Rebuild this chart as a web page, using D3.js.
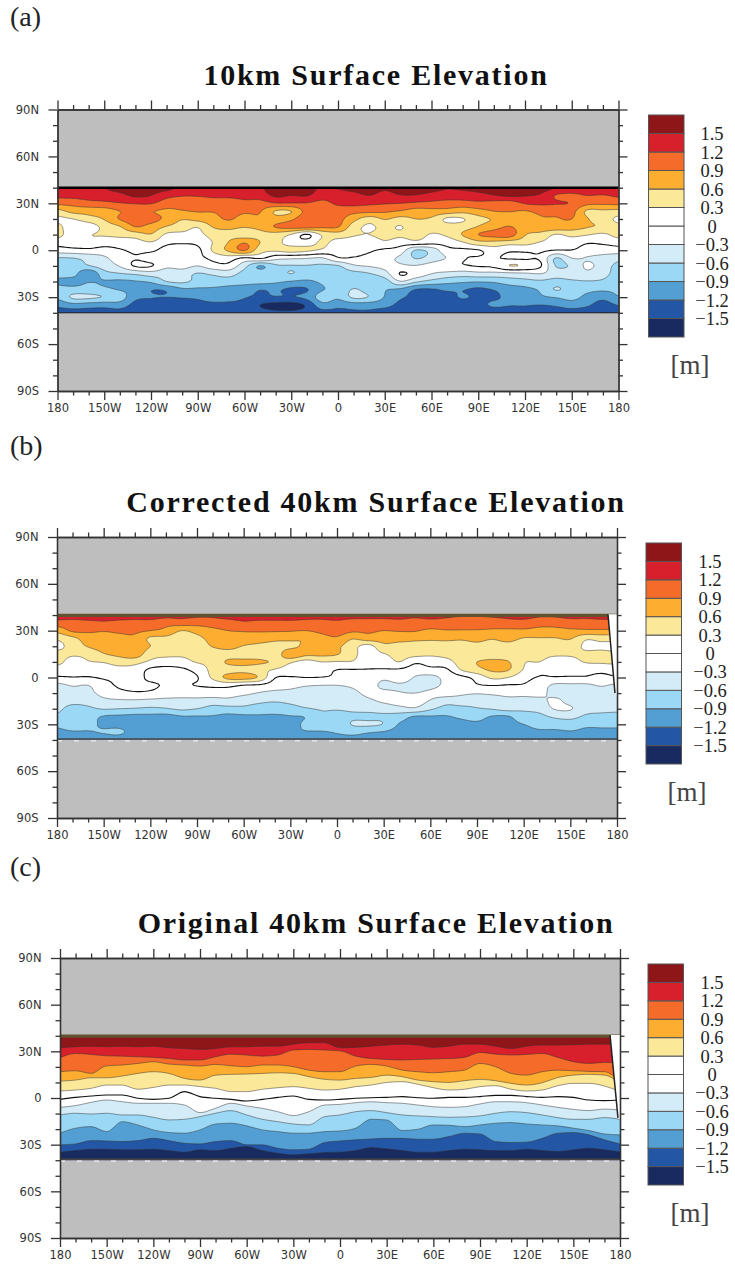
<!DOCTYPE html>
<html>
<head>
<meta charset="utf-8">
<script src="https://cdn.jsdelivr.net/npm/d3@7"></script>
<style>
	body { margin: 0; background: #fff; }
	svg { display: block; }
	.tick text { font-family: "DejaVu Sans", sans-serif; font-size: 11.5px; fill: #333; }
	.axis path, .axis line { stroke: #333; stroke-width: 1.3px; }
	.panel-label, .bar-label, .bar-unit { font-family: "Liberation Serif", serif; fill: #222; }
	.title { font-family: "Liberation Serif", serif; font-weight: bold; fill: #111; }
</style>
</head>
<body>
<div id="chart"></div>
<script>
// contour levels in cm, colours run from the lowest band to the highest
const levels = [-150, -120, -90, -60, -30, 0, 30, 60, 90, 120, 150];
const levelLabels = ['\u22121.5', '\u22121.2', '\u22120.9', '\u22120.6', '\u22120.3', '0', '0.3', '0.6', '0.9', '1.2', '1.5'];
const bandColors = ['#182A60', '#2357A6', '#539FD3', '#9BD8F6', '#D3ECF8', '#FFFFFF', '#FFFFFF', '#FCE899', '#FDAE30', '#F56C2A', '#D7202C', '#8E1518'];

const lons = d3.range(-180, 181, 10);
const lats = d3.range(40, -41, -5);

const xMajor = d3.range(-180, 181, 30);
const xLabels = ['180', '150W', '120W', '90W', '60W', '30W', '0', '30E', '60E', '90E', '120E', '150E', '180'];
const yMajor = d3.range(-90, 91, 30);
const yLabels = ['90S', '60S', '30S', '0', '30N', '60N', '90N'];

// surface elevation in cm, one row per longitude (-180 to 180), 40N down to 40S
const field10km = [
	[142,128,98,50,24,38,40,12,-14,-62,-72,-80,-95,-82,-85,-112,-135],
	[145,130,100,70,30,10,12,15,-10,-60,-72,-80,-100,-80,-55,-100,-135],
	[148,135,108,72,48,12,28,22,-8,-50,-62,-115,-92,-80,-55,-105,-135],
	[150,138,112,75,62,40,33,14,-12,-35,-45,-72,-92,-85,-62,-108,-135],
	[160,142,118,90,92,58,38,15,-3,-15,-28,-62,-95,-92,-75,-105,-132],
	[165,155,122,98,105,90,45,18,5,-2,3,-55,-92,-98,-112,-130,-140],
	[162,150,122,92,102,78,58,28,5,-12,2,-45,-85,-118,-118,-135,-142],
	[160,130,105,85,82,58,25,8,-12,-4,-22,-50,-60,-115,-120,-135,-142],
	[142,122,100,88,62,45,22,5,-28,-5,-18,-48,-55,-95,-118,-132,-142],
	[140,122,105,92,70,32,22,8,-8,-8,-30,-62,-68,-95,-115,-130,-140],
	[142,125,108,92,80,62,42,32,35,8,-12,-55,-72,-95,-105,-128,-140],
	[145,128,102,100,93,68,50,62,66,15,-10,-48,-75,-100,-108,-128,-140],
	[150,132,110,95,78,62,42,88,92,-4,-50,-70,-80,-105,-118,-130,-140],
	[148,135,108,92,85,70,50,60,42,5,-92,-72,-80,-118,-125,-150,-140],
	[165,155,118,58,72,92,48,42,35,-20,-65,-70,-85,-115,-122,-158,-145],
	[165,150,118,60,85,100,28,15,42,-25,-62,-60,-92,-125,-122,-160,-145],
	[165,152,118,100,110,102,-3,15,35,-28,-62,-72,-95,-122,-112,-145,-142],
	[145,132,112,100,102,95,35,35,25,-32,-65,-72,-85,-92,-75,-100,-132],
	[152,135,125,105,100,92,45,20,8,-3,-62,-72,-78,-85,-85,-110,-130],
	[160,140,128,100,70,45,33,18,5,-2,-35,-70,-82,-58,-55,-105,-125],
	[165,150,125,98,45,25,30,12,3,-8,-28,-62,-82,-75,-62,-105,-125],
	[155,138,122,95,62,40,40,25,-5,-22,-22,-42,-75,-88,-92,-110,-135],
	[165,148,120,88,50,28,35,15,-15,-35,-25,2,-32,-95,-115,-128,-138],
	[165,148,115,78,60,50,42,20,-62,-62,-28,-12,-55,-120,-128,-135,-140],
	[160,140,112,80,55,38,28,10,-48,-48,-18,-30,-70,-122,-128,-135,-140],
	[152,135,108,78,25,42,35,12,-10,-28,-5,-40,-80,-115,-128,-130,-140],
	[155,135,108,70,28,45,62,28,-5,-3,-3,-45,-85,-118,-118,-130,-140],
	[160,140,112,80,50,62,90,50,-2,2,2,-40,-88,-125,-125,-130,-140],
	[165,148,108,90,62,78,100,52,15,2,6,-40,-85,-118,-125,-115,-138],
	[172,155,105,92,65,92,105,45,5,-3,30,-38,-75,-105,-112,-118,-138],
	[168,152,122,88,62,72,62,42,5,-4,25,-35,-70,-98,-110,-118,-138],
	[165,145,125,100,85,80,50,28,5,-5,3,-30,-65,-85,-95,-120,-138],
	[150,118,122,98,88,82,28,18,-1,-62,-62,-45,-70,-58,-88,-115,-138],
	[148,112,118,100,90,75,38,15,-1,-30,-55,-42,-65,-75,-82,-105,-135],
	[145,120,98,55,62,62,32,3,-12,-32,-25,-38,-62,-82,-98,-115,-140],
	[142,118,95,55,45,55,25,5,-15,-40,-45,-50,-65,-85,-110,-135,-150],
	[142,125,98,50,24,38,40,12,-14,-50,-68,-72,-80,-85,-92,-118,-145]
];

const fieldCorrected = [
	[135,108,70,35,22,40,42,10,-3,-38,-42,-48,-55,-65,-85,-95,-105],
	[135,108,95,52,42,35,15,8,-1,-28,-40,-52,-68,-72,-80,-92,-105],
	[135,112,95,75,62,40,28,12,-2,-30,-38,-50,-65,-78,-82,-92,-105],
	[135,115,92,78,72,58,32,15,3,-10,-20,-38,-58,-92,-95,-88,-105],
	[138,110,95,82,78,68,42,20,5,3,-8,-35,-60,-95,-98,-85,-105],
	[135,108,95,85,82,78,40,18,8,4,-3,-35,-62,-98,-102,-102,-108],
	[135,108,90,55,60,42,25,-5,-5,3,-5,-38,-65,-98,-102,-102,-108],
	[130,100,82,52,45,38,15,-8,-8,-2,-12,-40,-62,-100,-102,-102,-108],
	[128,105,60,45,48,35,20,-5,-6,-3,-15,-40,-55,-92,-100,-102,-108],
	[125,102,70,52,42,38,32,10,-2,1,-18,-38,-60,-92,-102,-102,-108],
	[125,105,82,70,62,38,38,38,35,5,-12,-45,-70,-92,-102,-102,-108],
	[132,108,90,75,72,45,65,45,68,8,-15,-40,-70,-98,-105,-105,-108],
	[135,115,92,80,58,42,68,50,72,-1,-22,-50,-66,-96,-105,-105,-108],
	[135,112,93,75,52,42,65,40,55,-5,-32,-55,-70,-95,-105,-105,-108],
	[135,112,93,68,48,40,55,28,2,-15,-38,-58,-72,-96,-102,-105,-108],
	[135,112,92,68,50,85,35,15,-2,-22,-38,-55,-68,-92,-100,-95,-105],
	[128,112,90,62,68,68,20,18,0,-28,-40,-52,-62,-88,-85,-92,-108],
	[128,112,98,78,72,68,30,12,-1,-30,-40,-48,-58,-66,-78,-92,-108],
	[130,115,105,85,66,62,28,0,-5,-30,-42,-50,-58,-70,-80,-88,-100],
	[130,108,95,62,42,38,28,-1,-12,-25,-38,-45,-55,-65,-58,-82,-100],
	[132,105,95,75,20,18,12,-1,-8,-12,-22,-36,-50,-68,-55,-88,-100],
	[130,106,90,72,52,28,12,-2,-22,-40,-20,-25,-48,-65,-62,-92,-100],
	[130,110,92,72,48,42,30,-3,-10,-35,-28,-18,-40,-75,-92,-100,-105],
	[125,108,92,68,46,40,5,-12,-32,-38,-30,-18,-35,-92,-98,-100,-105],
	[130,108,85,65,46,35,12,-8,-38,-38,-25,-32,-55,-92,-100,-100,-105],
	[125,108,88,66,48,38,20,-5,-22,-24,-18,-48,-70,-92,-100,-100,-105],
	[122,105,88,64,48,38,42,32,-8,-12,-25,-45,-68,-85,-98,-100,-105],
	[122,104,88,68,52,38,60,50,10,-3,-28,-48,-62,-80,-95,-100,-105],
	[125,102,86,62,48,40,68,65,36,1,-25,-45,-58,-92,-100,-102,-105],
	[128,108,85,70,48,38,62,62,30,-2,-22,-38,-50,-92,-98,-102,-105],
	[132,108,85,58,44,36,32,28,10,-3,-22,-40,-55,-72,-90,-100,-105],
	[125,100,82,58,42,36,30,8,-2,-15,-22,-38,-50,-68,-80,-95,-105],
	[125,100,82,58,42,34,18,8,-2,-35,-38,-25,-28,-55,-78,-95,-105],
	[130,105,85,62,44,34,20,8,-3,-35,-36,-38,-28,-50,-78,-92,-105],
	[130,105,85,35,25,35,32,8,-3,-35,-38,-40,-48,-65,-85,-95,-105],
	[132,108,85,40,24,38,34,8,-8,-28,-40,-45,-52,-68,-85,-95,-105],
	[132,108,85,38,24,32,36,12,-3,-35,-42,-48,-55,-68,-85,-95,-105]
];

// original 40km run is plain zonal bands, so keep the latitude of each level per longitude
const lat150 = [32.3,32.9,33.3,32.9,33.3,32.9,33.3,32.3,31.8,31.2,31.8,32.9,32.9,33.3,33.3,34.6,35.5,35.5,32.3,32.5,33.3,34.0,34.6,34.0,32.5,33.3,34.6,34.6,33.3,31.8,33.3,34.0,34.0,34.2,34.6,34.6,34.0];
const lat120 = [25.9,28.6,28.0,27.1,26.9,26.5,26.1,25.4,24.4,24.4,26.5,28.2,27.6,26.9,27.6,30.8,31.2,30.8,30.3,26.9,25.4,24.8,24.4,24.8,25.0,25.4,26.1,29.3,28.2,27.6,28.0,28.6,26.1,23.3,22.2,22.9,22.2];
const lat90 = [16.9,17.5,15.8,20.7,21.2,22.2,23.3,21.8,21.2,20.5,21.6,20.7,20.1,21.2,21.2,20.1,17.9,16.9,16.9,20.5,21.6,20.5,17.9,16.9,16.2,16.9,17.9,22.2,20.1,15.8,14.7,16.9,17.9,17.5,17.1,16.9,10.5];
const lat60 = [10.9,11.5,13.0,13.0,14.1,15.8,16.9,15.8,12.6,11.5,14.7,15.2,15.4,15.8,16.2,15.8,13.7,12.0,11.5,12.6,13.2,14.7,13.7,11.5,10.5,10.0,11.1,12.0,11.1,9.4,8.3,9.8,13.2,14.7,15.2,14.7,9.4];
const lat30 = [4.5,5.1,6.2,8.3,8.3,5.6,6.8,8.3,8.3,7.3,6.2,4.1,4.1,5.6,6.6,7.3,6.2,5.1,5.6,7.3,8.3,10.0,10.5,8.8,6.6,5.1,5.6,7.3,7.9,5.6,4.5,5.1,7.9,9.4,9.4,7.7,4.1];
const lat0 = [-0.9,0.4,1.3,1.9,1.9,-0.2,-0.9,-0.2,4.1,0.9,-0.2,-0.9,-1.9,-0.9,0.4,1.3,-0.9,-1.3,-0.9,-0.2,0.2,0.4,0.9,0.2,-0.2,0.4,0.4,0.9,1.7,1.7,0.9,0.4,0.9,0.4,-1.3,-1.7,-1.3];
const latN30 = [-6.0,-4.9,-2.8,-1.3,-2.4,-3.4,-3.4,-3.4,-4.5,-9.4,-6.6,-3.4,-5.1,-6.6,-8.8,-11.3,-8.8,-4.5,-4.1,-3.0,-2.4,-3.0,-3.4,-4.5,-5.6,-6.0,-5.6,-3.8,-2.4,-2.4,-3.0,-4.5,-6.0,-7.3,-8.1,-7.1,-7.7];
const latN60 = [-10.9,-9.8,-10.3,-9.8,-10.9,-10.9,-12.4,-14.1,-13.7,-12.0,-9.8,-8.1,-10.9,-13.7,-15.2,-16.7,-17.3,-12.0,-10.9,-8.8,-8.1,-9.4,-10.9,-11.5,-12.0,-12.4,-12.2,-11.5,-9.8,-8.8,-9.4,-10.9,-12.6,-13.7,-13.7,-12.6,-13.7];
const latN90 = [-22.6,-19.4,-18.4,-21.6,-15.2,-17.3,-20.5,-22.2,-22.6,-20.5,-16.7,-16.2,-17.9,-20.5,-21.6,-22.6,-22.6,-21.6,-21.2,-19.4,-13.7,-14.1,-20.9,-20.1,-17.3,-17.5,-18.4,-17.3,-16.2,-15.8,-16.7,-17.3,-17.9,-19.4,-20.9,-23.1,-23.7];
const latN120 = [-30.1,-29.5,-27.4,-27.6,-28.0,-27.4,-25.9,-27.4,-29.1,-29.5,-28.0,-27.4,-30.1,-30.1,-32.3,-33.3,-32.9,-28.6,-27.6,-26.9,-26.3,-25.9,-25.9,-26.5,-26.5,-24.8,-22.6,-23.1,-28.0,-28.6,-28.4,-25.9,-22.6,-22.2,-23.7,-26.9,-29.5];
const latN150 = [-34.8,-33.8,-32.9,-32.9,-33.3,-33.3,-32.9,-33.8,-34.8,-33.3,-33.8,-32.3,-31.2,-33.8,-35.5,-36.5,-35.9,-35.0,-34.8,-33.8,-31.8,-32.7,-33.8,-34.8,-34.8,-33.8,-32.9,-33.3,-33.8,-33.8,-32.9,-33.8,-34.4,-33.3,-32.3,-33.3,-34.6];
const bandLats = [latN150, latN120, latN90, latN60, latN30, lat0, lat30, lat60, lat90, lat120, lat150];

// the 40km runs stop short of the dateline on their eastern edge
const edgeLonCorrected = [174.2, 178.7, 180, 180];
const edgeLatCorrected = [40.5, -10, -12, 40.5];
const edgeLonOriginal = [173.6, 178.7, 180, 180];
const edgeLatOriginal = [40.5, -12.8, -14, 40.5];

const width = 735;
const height = 1267;
const upsample = 6;
const pad = 2;

const panels = [
	{ tag: '(a)', title: '10km Surface Elevation', field: field10km, left: 57.5, right: 618.5, top: 109.5, bottom: 391, barLeft: 648.5, barTop: 115, barBottom: 337, labelX: 712, unitX: 690, tagY: 26, titleY: 85 },
	{ tag: '(b)', title: 'Corrected 40km Surface Elevation', field: fieldCorrected, edgeLon: edgeLonCorrected, edgeLat: edgeLatCorrected, left: 57, right: 617, top: 537, bottom: 818, barLeft: 646, barTop: 543, barBottom: 764, labelX: 710, unitX: 687, tagY: 455, titleY: 512 },
	{ tag: '(c)', title: 'Original 40km Surface Elevation', lines: bandLats, edgeLon: edgeLonOriginal, edgeLat: edgeLatOriginal, left: 60, right: 620, top: 958, bottom: 1238, barLeft: 648, barTop: 964, barBottom: 1185, labelX: 712, unitX: 690, tagY: 876, titleY: 933 }
];

// Catmull-Rom, clamped at the ends of the row
function cubic(a, b, c, d, t) {
	return b + 0.5 * t * (c - a + t * (2 * a - 5 * b + 4 * c - d + t * (3 * (b - c) + d - a)));
}

function sampleField(field) {
	const nCol = field.length;
	const nRow = field[0].length;
	const w = (nCol - 1 + pad * 2) * upsample + 1;
	const h = (nRow - 1 + pad * 2) * upsample + 1;
	const clampC = i => Math.max(0, Math.min(nCol - 1, i));
	const clampR = i => Math.max(0, Math.min(nRow - 1, i));
	const values = new Float64Array(w * h);
	for (let j = 0; j < h; j++) {
		const v = j / upsample - pad;
		const r0 = Math.floor(v);
		const tr = v - r0;
		for (let i = 0; i < w; i++) {
			const u = i / upsample - pad;
			const c0 = Math.floor(u);
			const tc = u - c0;
			const col = [-1, 0, 1, 2].map(dc => {
				const column = field[clampC(c0 + dc)];
				return cubic(column[clampR(r0 - 1)], column[clampR(r0)], column[clampR(r0 + 1)], column[clampR(r0 + 2)], tr);
			});
			values[j * w + i] = cubic(col[0], col[1], col[2], col[3], tc);
		}
	}
	return { values, w, h };
}

const $svg = d3.select('#chart').append('svg')
	.attr('width', width)
	.attr('height', height);

panels.forEach((panel, index) => drawPanel(panel, index));

function drawPanel(panel, index) {
	const scaleX = d3.scaleLinear().domain([-180, 180]).range([panel.left, panel.right]);
	const scaleY = d3.scaleLinear().domain([90, -90]).range([panel.top, panel.bottom]);
	const $g = $svg.append('g').attr('class', 'panel');

	$g.append('text').attr('class', 'panel-label')
		.attr('x', 10).attr('y', panel.tagY)
		.style('font-size', '28px')
		.text(panel.tag);

	$g.append('text').attr('class', 'title')
		.attr('x', 376).attr('y', panel.titleY)
		.attr('text-anchor', 'middle')
		.style('font-size', '30px')
		.style('letter-spacing', '1.75px')
		.text(panel.title);

	// land / out of domain
	$g.append('rect')
		.attr('x', panel.left).attr('y', panel.top)
		.attr('width', panel.right - panel.left).attr('height', panel.bottom - panel.top)
		.attr('fill', '#BEBEBE');

	const clipId = `clip-${index}`;
	$g.append('clipPath').attr('id', clipId).append('rect')
		.attr('x', panel.left).attr('y', scaleY(40.3))
		.attr('width', panel.right - panel.left).attr('height', scaleY(-40) - scaleY(40.3));

	const $map = $g.append('g').attr('clip-path', `url(#${clipId})`);
	$map.append('rect')
		.attr('x', panel.left).attr('y', scaleY(41))
		.attr('width', panel.right - panel.left).attr('height', scaleY(-41) - scaleY(41))
		.attr('fill', bandColors[0]);

	if (panel.field) drawContours($map, panel.field, scaleX, scaleY);
	else drawBands($map, panel.lines, scaleX, scaleY);

	// edge of the domain
	if (index === 0) {
		$g.append('line').attr('x1', panel.left).attr('x2', panel.right)
			.attr('y1', scaleY(40)).attr('y2', scaleY(40))
			.attr('stroke', '#000').attr('stroke-width', 2.6);
		$g.append('line').attr('x1', panel.left).attr('x2', panel.right)
			.attr('y1', scaleY(-40)).attr('y2', scaleY(-40))
			.attr('stroke', '#222').attr('stroke-width', 1);
	} else {
		$g.append('line').attr('x1', panel.left).attr('x2', panel.right)
			.attr('y1', scaleY(39.8)).attr('y2', scaleY(39.8))
			.attr('stroke', '#5f5330').attr('stroke-width', 3.2);
		$g.append('line').attr('x1', panel.left).attr('x2', panel.right)
			.attr('y1', scaleY(-39.4)).attr('y2', scaleY(-39.4))
			.attr('stroke', '#444').attr('stroke-width', 1.4);
		$g.append('line').attr('x1', panel.left).attr('x2', panel.right)
			.attr('y1', scaleY(-40.6)).attr('y2', scaleY(-40.6))
			.attr('stroke', '#eee').attr('stroke-width', 1.2)
			.attr('stroke-dasharray', '5 12');

		const edge = panel.edgeLon.map((lon, i) => [scaleX(lon), scaleY(panel.edgeLat[i])]);
		$g.append('path').attr('d', `M${edge.join('L')}Z`).attr('fill', '#fff');
		$g.append('path').attr('d', d3.line()(edge.slice(0, 2)))
			.attr('fill', 'none').attr('stroke', '#222').attr('stroke-width', 1.5);
	}

	drawAxes($g, scaleX, scaleY);
	drawBar($g, panel);
}

function drawContours($map, field, scaleX, scaleY) {
	const { values, w, h } = sampleField(field);
	const contours = d3.contours().size([w, h]).thresholds(levels)(values);
	const stepLon = lons[1] - lons[0];
	const stepLat = lats[1] - lats[0];
	const path = d3.geoPath(d3.geoTransform({
		point(gx, gy) {
			const u = (gx - 0.5) / upsample - pad;
			const v = (gy - 0.5) / upsample - pad;
			this.stream.point(scaleX(lons[0] + u * stepLon), scaleY(lats[0] + v * stepLat));
		}
	}));

	$map.append('g').selectAll('path')
		.data(contours)
		.join('path')
		.attr('d', path)
		.attr('fill', (d, i) => bandColors[i + 1]);

	$map.append('g').selectAll('path')
		.data(contours)
		.join('path')
		.attr('d', path)
		.attr('fill', 'none')
		.attr('stroke', d => d.value === 0 ? '#111' : '#333')
		.attr('stroke-opacity', d => d.value === 0 ? 1 : 0.55)
		.attr('stroke-width', d => d.value === 0 ? 1.1 : 0.9);
}

function drawBands($map, lines, scaleX, scaleY) {
	// paint from the bottom band up, each one reaching the top of the domain
	const area = d3.area()
		.x((d, i) => scaleX(lons[i]))
		.y0(scaleY(41))
		.y1(d => scaleY(d))
		.curve(d3.curveMonotoneX);
	const line = d3.line()
		.x((d, i) => scaleX(lons[i]))
		.y(d => scaleY(d))
		.curve(d3.curveMonotoneX);

	$map.append('g').selectAll('path')
		.data(lines)
		.join('path')
		.attr('d', area)
		.attr('fill', (d, i) => bandColors[i + 1]);

	$map.append('g').selectAll('path')
		.data(lines)
		.join('path')
		.attr('d', line)
		.attr('fill', 'none')
		.attr('stroke', (d, i) => levels[i] === 0 ? '#111' : '#333')
		.attr('stroke-opacity', (d, i) => levels[i] === 0 ? 1 : 0.55)
		.attr('stroke-width', (d, i) => levels[i] === 0 ? 1.1 : 0.9);
}

function drawAxes($g, scaleX, scaleY) {
	const xMinor = d3.range(-180, 181, 10).filter(d => d % 30 !== 0);
	const yMinor = d3.range(-90, 91, 10).filter(d => d % 30 !== 0);
	const noLabel = () => '';
	const [x0, x1] = scaleX.range();
	const [y0, y1] = scaleY.range();

	const axes = [
		{ axis: d3.axisBottom(scaleX), at: [0, y1], major: xMajor, minor: xMinor, format: d => xLabels[xMajor.indexOf(d)], padding: 4 },
		{ axis: d3.axisTop(scaleX), at: [0, y0], major: xMajor, minor: xMinor, format: noLabel, padding: 0 },
		{ axis: d3.axisLeft(scaleY), at: [x0, 0], major: yMajor, minor: yMinor, format: d => yLabels[yMajor.indexOf(d)], padding: 9.5 },
		{ axis: d3.axisRight(scaleY), at: [x1, 0], major: yMajor, minor: yMinor, format: noLabel, padding: 0 }
	];

	axes.forEach(a => {
		$g.append('g').attr('class', 'axis')
			.attr('transform', `translate(${a.at})`)
			.call(a.axis.tickValues(a.major).tickSize(9).tickSizeOuter(0).tickPadding(a.padding).tickFormat(a.format));
		$g.append('g').attr('class', 'axis')
			.attr('transform', `translate(${a.at})`)
			.call(a.axis.tickValues(a.minor).tickSize(4.5).tickSizeOuter(0).tickFormat(noLabel));
	});
}

function drawBar($g, panel) {
	const barWidth = 35.5;
	const scaleBar = d3.scaleBand()
		.domain(d3.range(bandColors.length))
		.range([panel.barBottom, panel.barTop]);
	const scaleLevel = d3.scalePoint()
		.domain(levels)
		.range([panel.barBottom - scaleBar.bandwidth(), panel.barTop + scaleBar.bandwidth()]);

	$g.append('g').selectAll('rect')
		.data(bandColors)
		.join('rect')
		.attr('x', panel.barLeft)
		.attr('y', (d, i) => scaleBar(i))
		.attr('width', barWidth)
		.attr('height', scaleBar.bandwidth())
		.attr('fill', d => d)
		.attr('stroke', '#555')
		.attr('stroke-width', 1);

	$g.append('g').selectAll('text')
		.data(levels)
		.join('text')
		.attr('class', 'bar-label')
		.attr('x', panel.labelX)
		.attr('y', d => scaleLevel(d) + 6.5)
		.attr('text-anchor', 'middle')
		.style('font-size', '18.5px')
		.text((d, i) => levelLabels[i]);

	$g.append('text').attr('class', 'bar-unit')
		.attr('x', panel.unitX)
		.attr('y', panel.barBottom + 37)
		.attr('text-anchor', 'middle')
		.style('font-size', '27px')
		.style('fill', '#444')
		.text('[m]');
}
</script>
</body>
</html>
